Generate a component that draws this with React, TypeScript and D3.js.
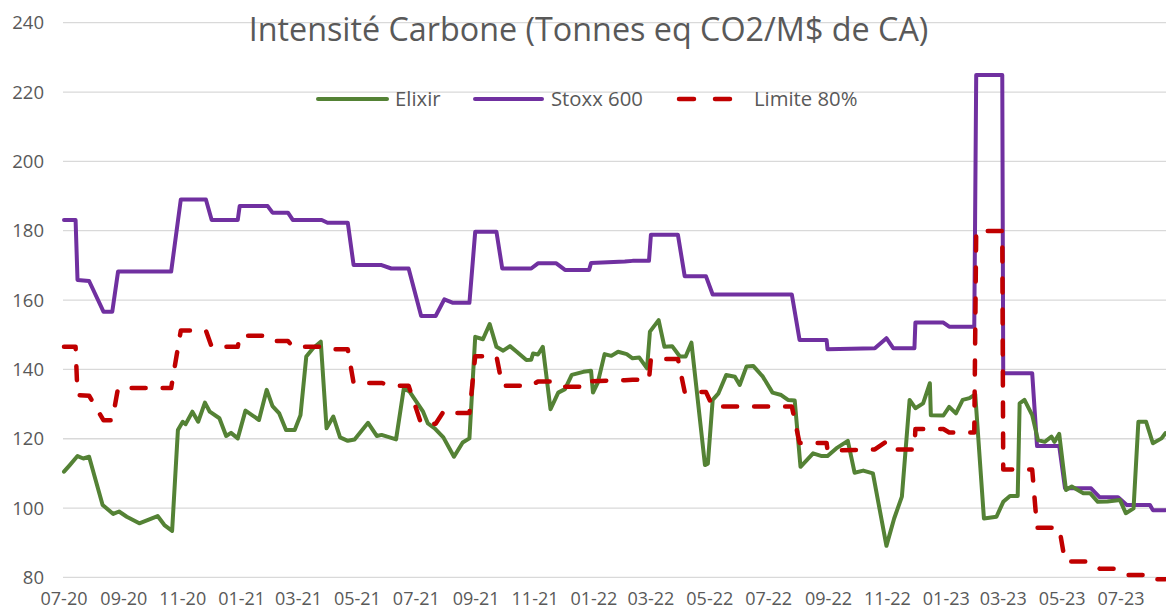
import React from 'react'
import * as d3 from 'd3'

// Elixir (green) — daily series, vertices
const elixirDates = [
  '2020-07-01', '2020-07-07', '2020-07-15', '2020-07-21', '2020-07-27', '2020-08-10', '2020-08-21', '2020-08-27',
  '2020-09-04', '2020-09-17', '2020-10-06', '2020-10-13', '2020-10-21', '2020-10-27', '2020-11-01', '2020-11-04',
  '2020-11-11', '2020-11-17', '2020-11-24', '2020-11-29', '2020-12-09', '2020-12-16', '2020-12-21', '2020-12-28',
  '2021-01-05', '2021-01-19', '2021-01-27', '2021-02-02', '2021-02-09', '2021-02-16', '2021-02-25', '2021-03-03',
  '2021-03-09', '2021-03-16', '2021-03-24', '2021-03-30', '2021-04-06', '2021-04-13', '2021-04-21', '2021-04-28',
  '2021-05-12', '2021-05-21', '2021-05-26', '2021-06-10', '2021-06-18', '2021-06-24', '2021-07-08', '2021-07-13',
  '2021-07-20', '2021-07-29', '2021-08-09', '2021-08-18', '2021-08-25', '2021-08-31', '2021-09-08', '2021-09-15',
  '2021-09-22', '2021-09-29', '2021-10-06', '2021-10-13', '2021-10-23', '2021-10-28', '2021-10-30', '2021-11-04',
  '2021-11-09', '2021-11-17', '2021-11-25', '2021-12-02', '2021-12-09', '2021-12-21', '2021-12-29', '2021-12-31',
  '2022-01-05', '2022-01-12', '2022-01-19', '2022-01-26', '2022-02-04', '2022-02-10', '2022-02-17', '2022-02-25',
  '2022-02-28', '2022-03-09', '2022-03-15', '2022-03-23', '2022-03-31', '2022-04-06', '2022-04-12', '2022-04-26',
  '2022-04-29', '2022-05-04', '2022-05-10', '2022-05-18', '2022-05-27', '2022-06-01', '2022-06-08', '2022-06-15',
  '2022-06-25', '2022-07-05', '2022-07-14', '2022-07-21', '2022-07-28', '2022-08-03', '2022-08-16', '2022-08-25',
  '2022-08-31', '2022-09-09', '2022-09-21', '2022-09-28', '2022-10-07', '2022-10-17', '2022-10-26', '2022-10-31',
  '2022-11-08', '2022-11-16', '2022-11-24', '2022-11-30', '2022-12-08', '2022-12-15', '2022-12-16', '2022-12-29',
  '2023-01-04', '2023-01-11', '2023-01-18', '2023-01-25', '2023-01-31', '2023-02-09', '2023-02-22', '2023-03-01',
  '2023-03-08', '2023-03-16', '2023-03-18', '2023-03-23', '2023-03-31', '2023-04-06', '2023-04-13', '2023-04-20',
  '2023-04-23', '2023-04-28', '2023-05-05', '2023-05-11', '2023-05-23', '2023-05-30', '2023-06-07', '2023-06-17',
  '2023-06-30', '2023-07-06', '2023-07-14', '2023-07-19', '2023-07-27', '2023-08-03', '2023-08-12', '2023-08-16'
]
const elixirValues = [
  110.5, 112.4, 115.0, 114.3, 114.8, 100.9, 98.3, 99.0,
  97.5, 95.6, 97.7, 95.1, 93.4, 122.5, 124.9, 124.2,
  127.8, 124.9, 130.4, 127.8, 125.9, 120.8, 121.7, 120.1,
  128.1, 125.4, 134.1, 129.4, 127.3, 122.5, 122.5, 126.8,
  143.7, 146.1, 148.0, 123.0, 126.4, 120.4, 119.4, 119.8,
  124.6, 120.8, 121.1, 119.8, 134.5, 133.6, 127.8, 124.4,
  123.0, 120.4, 114.8, 118.9, 120.1, 149.4, 148.7, 153.1,
  146.5, 145.4, 146.7, 145.1, 142.7, 142.8, 144.6, 144.3,
  146.5, 128.5, 133.3, 134.3, 138.4, 139.3, 139.6, 133.3,
  136.2, 144.4, 143.9, 145.1, 144.4, 143.2, 143.4, 140.3,
  150.9, 154.2, 146.5, 146.7, 143.7, 143.7, 147.7, 112.4,
  112.8, 131.2, 133.1, 138.4, 137.9, 135.5, 140.8, 141.0,
  137.9, 133.3, 132.6, 131.2, 131.0, 111.9, 115.8, 115.0,
  115.0, 117.2, 119.4, 110.2, 110.8, 110.0, 96.6, 89.1,
  97.0, 103.3, 131.2, 128.8, 130.2, 136.0, 126.8, 126.7,
  129.2, 127.3, 131.2, 131.7, 132.8, 97.0, 97.5, 101.8,
  103.5, 103.5, 130.2, 131.2, 126.8, 119.6, 119.1, 120.6,
  119.1, 121.4, 105.2, 106.2, 104.3, 104.3, 101.8, 101.9,
  102.3, 98.5, 99.9, 124.9, 124.9, 118.7, 120.1, 121.6
]

// Stoxx 600 and Limite 80% share the same dates
const stoxxDates = [
  '2020-07-01', '2020-07-13', '2020-07-15', '2020-07-27', '2020-08-11', '2020-08-20', '2020-08-26', '2020-10-20',
  '2020-10-30', '2020-11-25', '2020-12-01', '2020-12-28', '2020-12-30', '2021-01-28', '2021-02-02', '2021-02-18',
  '2021-02-23', '2021-03-25', '2021-03-31', '2021-04-21', '2021-04-27', '2021-05-26', '2021-06-05', '2021-06-23',
  '2021-07-06', '2021-07-21', '2021-07-30', '2021-08-08', '2021-08-25', '2021-08-31', '2021-09-22', '2021-09-28',
  '2021-10-28', '2021-11-04', '2021-11-23', '2021-12-02', '2021-12-27', '2021-12-29', '2022-02-02', '2022-02-10',
  '2022-02-27', '2022-03-01', '2022-03-29', '2022-04-05', '2022-04-27', '2022-05-04', '2022-07-25', '2022-08-02',
  '2022-08-30', '2022-08-31', '2022-10-19', '2022-10-31', '2022-11-07', '2022-11-29', '2022-11-30', '2022-12-29',
  '2023-01-04', '2023-01-30', '2023-02-01', '2023-02-28', '2023-03-01', '2023-03-31', '2023-04-05', '2023-04-28',
  '2023-05-04', '2023-05-31', '2023-06-09', '2023-06-28', '2023-07-07', '2023-07-31', '2023-08-03', '2023-08-16'
]
const stoxxValues = [
  183.1, 183.1, 165.8, 165.5, 156.6, 156.6, 168.2, 168.2,
  189.0, 189.0, 183.1, 183.1, 187.1, 187.1, 185.2, 185.2,
  183.1, 183.1, 182.3, 182.3, 170.1, 170.1, 169.1, 169.1,
  155.4, 155.4, 160.2, 159.2, 159.2, 179.7, 179.7, 169.1,
  169.1, 170.6, 170.6, 168.7, 168.7, 170.7, 171.1, 171.3,
  171.3, 178.8, 178.8, 166.9, 166.9, 161.6, 161.6, 148.5,
  148.5, 145.8, 146.1, 149.0, 146.1, 146.1, 153.5, 153.5,
  152.3, 152.3, 224.9, 224.9, 138.9, 138.9, 117.9, 117.9,
  105.7, 105.7, 103.1, 103.1, 100.9, 100.9, 99.4, 99.4
]
const limiteValues = [
  146.5, 146.5, 132.6, 132.4, 125.3, 125.3, 134.6, 134.6,
  151.2, 151.2, 146.5, 146.5, 149.7, 149.7, 148.2, 148.2,
  146.5, 146.5, 145.8, 145.8, 136.1, 136.1, 135.3, 135.3,
  124.3, 124.3, 128.2, 127.4, 127.4, 143.8, 143.8, 135.3,
  135.3, 136.5, 136.5, 135.0, 135.0, 136.6, 136.9, 137.0,
  137.0, 143.0, 143.0, 133.5, 133.5, 129.3, 129.3, 118.8,
  118.8, 116.6, 116.9, 119.2, 116.9, 116.9, 122.8, 122.8,
  121.8, 121.8, 179.9, 179.9, 111.1, 111.1, 94.3, 94.3,
  84.6, 84.6, 82.5, 82.5, 80.7, 80.7, 79.5, 79.5
]

const yTicks = [80, 100, 120, 140, 160, 180, 200, 220, 240]
const xTickDates = [
  '2020-07-01', '2020-09-01', '2020-11-01', '2021-01-01', '2021-03-01', '2021-05-01', '2021-07-01',
  '2021-09-01', '2021-11-01', '2022-01-01', '2022-03-01', '2022-05-01', '2022-07-01', '2022-09-01',
  '2022-11-01', '2023-01-01', '2023-03-01', '2023-05-01', '2023-07-01'
]

const W = 1166
const H = 612
const FONT = '"Open Sans", sans-serif'
const GREY = '#595959'

const parse = d3.timeParse('%Y-%m-%d')
const fmt = d3.timeFormat('%m-%y')

export default function App() {
  const x = d3.scaleTime()
    .domain([parse('2020-07-01'), parse('2023-07-01')])
    .range([64, 1121])
  const y = d3.scaleLinear().domain([80, 240]).range([577.4, 22.7])

  const line = d3.line().x(d => x(d[0])).y(d => y(d[1]))

  const elixir = elixirDates.map((d, i) => [parse(d), elixirValues[i]])
  const stoxx = stoxxDates.map((d, i) => [parse(d), stoxxValues[i]])
  const limite = stoxxDates.map((d, i) => [parse(d), limiteValues[i]])

  const legendY = 99

  return (
    <svg width={W} height={H} style={{ position: 'absolute', left: 0, top: 0, background: '#fff' }} fontFamily={FONT}>
      {/* gridlines */}
      {yTicks.map(t => (
        <g key={t}>
          <line x1={63} x2={W} y1={y(t)} y2={y(t)} stroke="#d9d9d9" strokeWidth={1.3} />
          <text x={44} y={y(t)} dy="0.35em" textAnchor="end" fontSize={18.5} fill={GREY}>{t}</text>
        </g>
      ))}

      {xTickDates.map(d => (
        <text key={d} x={x(parse(d))} y={605} textAnchor="middle" fontSize={18} fill={GREY}>
          {fmt(parse(d))}
        </text>
      ))}

      <text x={588.5} y={41} textAnchor="middle" fontSize={32.3} fill={GREY}>
        Intensité Carbone (Tonnes eq CO2/M$ de CA)
      </text>

      {/* legend */}
      <line x1={318} x2={387} y1={legendY} y2={legendY} stroke="#548235" strokeWidth={4} strokeLinecap="round" />
      <text x={395} y={legendY} dy="0.35em" fontSize={20.3} fill={GREY}>Elixir</text>
      <line x1={475} x2={542} y1={legendY} y2={legendY} stroke="#7030a0" strokeWidth={4} strokeLinecap="round" />
      <text x={551} y={legendY} dy="0.35em" fontSize={20.3} fill={GREY}>Stoxx 600</text>
      <line x1={679} x2={733} y1={legendY} y2={legendY} stroke="#c00000" strokeWidth={4.5}
        strokeLinecap="round" strokeDasharray="15 21" />
      <text x={754} y={legendY} dy="0.35em" fontSize={20.3} fill={GREY}>Limite 80%</text>

      <path d={line(stoxx)} fill="none" stroke="#7030a0" strokeWidth={4} strokeLinejoin="round" strokeLinecap="round" />
      <path d={line(elixir)} fill="none" stroke="#548235" strokeWidth={4} strokeLinejoin="round" strokeLinecap="round" />
      <path d={line(limite)} fill="none" stroke="#c00000" strokeWidth={4.5} strokeLinejoin="round"
        strokeLinecap="round" strokeDasharray="14 17" />
    </svg>
  )
}
